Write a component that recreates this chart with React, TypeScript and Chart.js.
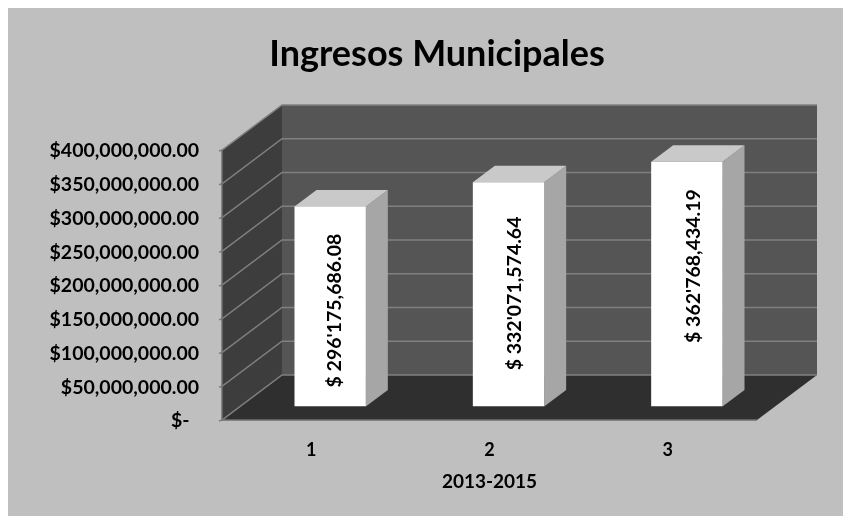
import React, { useEffect, useRef } from "react";
import { Chart, registerables } from "chart.js";

Chart.register(...registerables);

const categories = ["1", "2", "3"];
const ingresos = [296175686.08, 332071574.64, 362768434.19];
const barLabels = ["$ 296'175,686.08", "$ 332'071,574.64", "$ 362'768,434.19"];
const yTickLabels = [
  "$-  ",
  "$50,000,000.00",
  "$100,000,000.00",
  "$150,000,000.00",
  "$200,000,000.00",
  "$250,000,000.00",
  "$300,000,000.00",
  "$350,000,000.00",
  "$400,000,000.00",
];

const FONT = "Lato, Carlito, Calibri, sans-serif";
const WALL = { dx: 60, dy: -45 };
const BAR_SHIFT = { dx: 19, dy: -13.5 };
const BAR_DEPTH = { dx: 22, dy: -16.5 };
// placement of each hand-moved label relative to the bar face centre
const LABEL_NUDGE = [
  { x: 5, y: 4 },
  { x: 6, y: -1 },
  { x: 7, y: -18 },
];

const poly = (ctx: CanvasRenderingContext2D, pts: number[][], fill: string) => {
  ctx.beginPath();
  pts.forEach(([x, y], i) => (i ? ctx.lineTo(x, y) : ctx.moveTo(x, y)));
  ctx.closePath();
  ctx.fillStyle = fill;
  ctx.fill();
};

const box3d = {
  id: "box3d",
  beforeDraw(chart: any) {
    const { ctx, width, height } = chart;
    ctx.save();
    ctx.fillStyle = "#bfbfbf";
    ctx.fillRect(0, 0, width, height);
    ctx.restore();
  },
  beforeDatasetsDraw(chart: any) {
    const { ctx, chartArea: a, scales } = chart;
    const { dx, dy } = WALL;
    ctx.save();
    poly(ctx, [[a.left + dx, a.top + dy], [a.right + dx, a.top + dy], [a.right + dx, a.bottom + dy], [a.left + dx, a.bottom + dy]], "#555555");
    poly(ctx, [[a.left, a.top], [a.left + dx, a.top + dy], [a.left + dx, a.bottom + dy], [a.left, a.bottom]], "#3d3d3d");
    poly(ctx, [[a.left, a.bottom], [a.right, a.bottom], [a.right + dx, a.bottom + dy], [a.left + dx, a.bottom + dy]], "#2f2f2f");
    ctx.strokeStyle = "#808080";
    ctx.lineWidth = 1.5;
    for (const t of scales.y.ticks) {
      const y = scales.y.getPixelForValue(t.value);
      ctx.beginPath();
      ctx.moveTo(a.left - 3, y + 1);
      ctx.lineTo(a.left, y);
      ctx.lineTo(a.left + dx, y + dy);
      ctx.lineTo(a.right + dx, y + dy);
      ctx.stroke();
    }
    ctx.strokeStyle = "#707070";
    ctx.beginPath();
    ctx.moveTo(a.left, a.top);
    ctx.lineTo(a.left, a.bottom);
    ctx.lineTo(a.right, a.bottom);
    ctx.stroke();
    ctx.restore();
  },
  beforeDatasetDraw(chart: any, args: any) {
    const { ctx } = chart;
    ctx.save();
    ctx.translate(BAR_SHIFT.dx, BAR_SHIFT.dy);
    const { dx, dy } = BAR_DEPTH;
    for (const bar of chart.getDatasetMeta(args.index).data) {
      const { x, y, base, width } = bar.getProps(["x", "y", "base", "width"], true);
      const l = x - width / 2;
      const r = x + width / 2;
      poly(ctx, [[r, y], [r + dx, y + dy], [r + dx, base + dy], [r, base]], "#a6a6a6");
      poly(ctx, [[l, y], [r, y], [r + dx, y + dy], [l + dx, y + dy]], "#c9c9c9");
    }
  },
  afterDatasetDraw(chart: any) {
    chart.ctx.restore();
  },
  afterDatasetsDraw(chart: any) {
    const { ctx } = chart;
    const bars = chart.getDatasetMeta(0).data;
    ctx.save();
    ctx.fillStyle = "#000000";
    ctx.font = `bold 19.5px ${FONT}`;
    ctx.textAlign = "center";
    ctx.textBaseline = "middle";
    bars.forEach((bar: any, i: number) => {
      const { x, y, base } = bar.getProps(["x", "y", "base"], true);
      ctx.save();
      ctx.translate(x + BAR_SHIFT.dx + LABEL_NUDGE[i].x, (y + base) / 2 + BAR_SHIFT.dy + LABEL_NUDGE[i].y);
      ctx.rotate(-Math.PI / 2);
      ctx.fillText(barLabels[i], 0, 0);
      ctx.restore();
    });
    ctx.restore();
  },
};

export default function App() {
  const ref = useRef<HTMLCanvasElement>(null);
  useEffect(() => {
    const chart = new Chart(ref.current!, {
      type: "bar",
      data: {
        labels: categories,
        datasets: [
          {
            label: "Ingresos",
            data: ingresos,
            backgroundColor: "#ffffff",
            borderWidth: 0,
            barPercentage: 0.4,
            categoryPercentage: 1,
            yAxisID: "y",
          },
        ],
      },
      plugins: [box3d],
      options: {
        responsive: false,
        animation: false,
        layout: { autoPadding: false, padding: { left: 15, right: 0, top: 0, bottom: 0 } },
        plugins: {
          legend: { display: false },
          tooltip: { enabled: false },
          title: {
            display: true,
            text: "Ingresos Municipales",
            color: "#000000",
            font: { family: FONT, size: 36, weight: "bold", lineHeight: 1 },
            padding: { top: 28, bottom: 78 },
          },
        },
        scales: {
          x: {
            grid: { display: false, drawTicks: false },
            border: { display: false },
            afterFit: (s: any) => {
              s.height = 96;
            },
            ticks: { color: "#000000", padding: 19, font: { family: FONT, size: 18, weight: "bold" } },
            title: {
              display: true,
              text: "2013-2015",
              color: "#000000",
              font: { family: FONT, size: 19, weight: "bold" },
              padding: { top: 0, bottom: 23 },
            },
          },
          y: {
            min: 0,
            max: 400000000,
            grid: { display: false, drawTicks: false },
            border: { display: false },
            afterFit: (s: any) => {
              s.width = 199;
            },
            ticks: {
              stepSize: 50000000,
              color: "#000000",
              padding: 23,
              labelOffset: 1,
              font: { family: FONT, size: 19.5, weight: "bold" },
              callback: (_v: any, i: number) => yTickLabels[i],
            },
          },
          spacer: {
            axis: "y",
            position: "right",
            display: true,
            grid: { display: false, drawTicks: false },
            border: { display: false },
            ticks: { display: false },
            afterFit: (s: any) => {
              s.width = 94;
            },
          },
        },
      },
    } as any);
    return () => chart.destroy();
  }, []);
  return (
    <div style={{ width: 843, height: 508 }}>
      <canvas ref={ref} width={843} height={508} style={{ display: "block", width: 843, height: 508 }} />
    </div>
  );
}
